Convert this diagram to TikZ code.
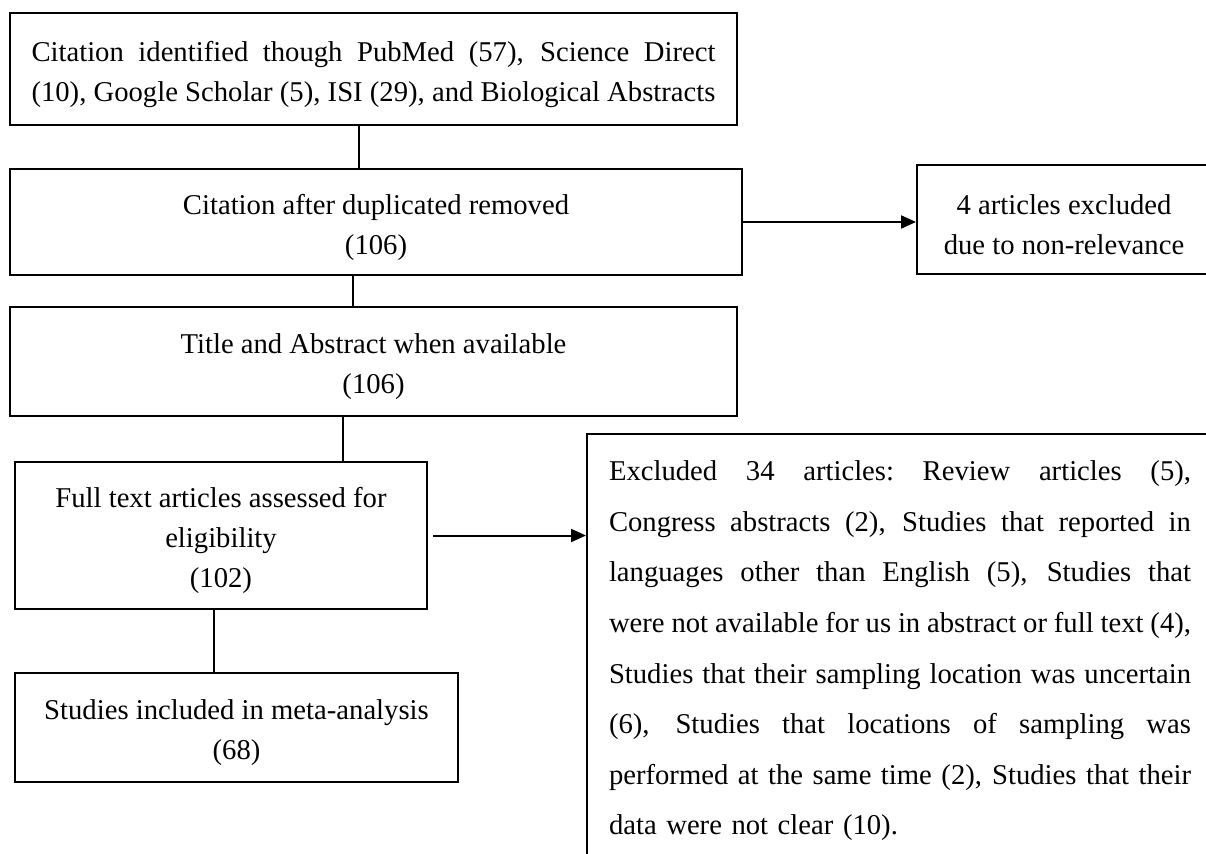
\documentclass[tikz,border=0pt]{standalone}
\usepackage{fontspec}
\setmainfont{Liberation Serif}
\usetikzlibrary{arrows.meta}

\newlength{\du}
\setlength{\du}{0.75pt}
\newcommand{\fillline}[2][582]{{\spaceskip=0.25em plus 1.5em minus 0.12em\xspaceskip=\spaceskip
  \makebox[#1\du][s]{#2}}}
\newcommand{\lead}{\rule{0pt}{31\du}}

\begin{document}
\begin{tikzpicture}[x=1\du,y=-1\du,
  box/.style={draw=black,line width=2\du,inner sep=0pt,align=center,
    font=\fontsize{21.5}{30}\selectfont},
  link/.style={draw=black,line width=2\du},
  arr/.style={link,-{Triangle[length=11.25pt,width=9.75pt]}}]
\useasboundingbox (0,0) rectangle (1206,853);

\node[box,minimum width=727\du,minimum height=112\du,text width=684\du,align=left] (cite) at (373.5,69)
  {\lead\fillline[684]{Citation identified though PubMed (57), Science Direct}\\
   \fillline[684]{(10), Google Scholar (5), ISI (29), and Biological Abstracts}};
\node[box,minimum width=732\du,minimum height=106\du] (dedup) at (376,222)
  {\lead Citation after duplicated removed\\(106)};
\node[box,minimum width=294\du,minimum height=109\du] (excl1) at (1064,219.5)
  {\lead 4 articles excluded\\due to non-relevance};
\node[box,minimum width=727\du,minimum height=109\du] (title) at (373.5,361.5)
  {\lead Title and Abstract when available\\(106)};
\node[box,minimum width=412\du,minimum height=147\du] (full) at (221,535.5)
  {\lead Full text articles assessed for\\eligibility\\(102)};
\node[box,minimum width=443\du,minimum height=109\du] (incl) at (236.5,727.5)
  {\lead Studies included in meta-analysis\\(68)};

% right side box runs off the page
\node[box,anchor=north west,inner xsep=22\du,inner ysep=27\du,text width=582\du,align=left,
  font=\fontsize{21.5}{37.9}\selectfont] (excl2) at (586,433)
  {\fillline{Excluded 34 articles: Review articles (5),}\\
   \fillline{Congress abstracts (2), Studies that reported in}\\
   \fillline{languages other than English (5), Studies that}\\
   \fillline{were not available for us in abstract or full text (4),}\\
   \fillline{Studies that their sampling location was uncertain}\\
   \fillline{(6), Studies that locations of sampling was}\\
   \fillline{performed at the same time (2), Studies that their}\\
   data were not clear (10).};

\draw[link] (359,0 |- cite.south) -- (359,0 |- dedup.north);
\draw[arr] (dedup.east) -- (dedup.east -| excl1.west);
\draw[link] (353,0 |- dedup.south) -- (353,0 |- title.north);
\draw[link] (343,0 |- title.south) -- (343,0 |- full.north);
\draw[arr] ([xshift=5\du]full.east) -- (full.east -| excl2.west);
\draw[link] (214,0 |- full.south) -- (214,0 |- incl.north);
\end{tikzpicture}
\end{document}
